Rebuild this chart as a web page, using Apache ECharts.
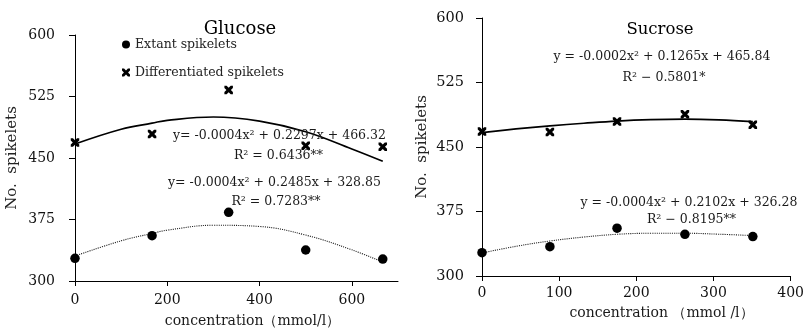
<!DOCTYPE html>
<html>
<head>
<meta charset="utf-8">
<script src="https://cdn.jsdelivr.net/npm/echarts@6/dist/echarts.min.js"></script>
<style>html,body{margin:0;padding:0;background:#fff;}#c{width:807px;height:328px;}</style>
</head>
<body>
<div id="c"></div>
<script>
// ---- Glucose panel ----
const glucoseConc = [0, 167, 333, 500, 667];
const glucoseExtant = [327.7, 355.3, 383.8, 337.8, 326.8];
const glucoseDiff = [469, 479.3, 533, 465, 463.8];
const glucoseTrendX = [0, 100, 167, 200, 300, 400, 500, 600, 667];
const glucoseExtantTrend = [330.5, 349, 358, 362, 368, 366.5, 356, 338, 323];
const glucoseDiffTrend = [467, 485, 492.5, 496, 500, 495, 482, 461, 446];
// ---- Sucrose panel ----
const sucroseConc = [0, 88, 175, 263, 351];
const sucroseExtant = [327.1, 334.1, 355.6, 348.5, 345.8];
const sucroseDiff = [468, 467.5, 479.6, 488, 475.8];
const sucroseTrendX = [0, 44, 88, 132, 175, 219, 263, 307, 351];
const sucroseExtantTrend = [326.8, 334.5, 340.7, 345.3, 348.5, 349.7, 349.7, 348.6, 347];
const sucroseDiffTrend = [466.8, 471, 474.6, 477.6, 480.2, 481.8, 482.4, 481.6, 479.6];
// ---- ticks / labels ----
const glucoseXTicks = [0, 200, 400, 600];
const yTicks = [300, 375, 450, 525, 600];
const legendNames = ['Extant spikelets', 'Differentiated spikelets'];

const zip = (xs, ys) => xs.map((x, i) => [x, ys[i]]);
const xPath = 'path://M0,0 L2.6,0 L5,2.4 L7.4,0 L10,0 L10,2.6 L7.6,5 L10,7.4 L10,10 L7.4,10 L5,7.6 L2.6,10 L0,10 L0,7.4 L2.4,5 L0,2.6 Z';
const serif = '"DejaVu Serif", "Liberation Serif", serif';
const txt = '#111';

function xAxisDef(grid, max, interval, margin, custom) {
  const a = {
    type: 'value', gridIndex: grid, min: 0, max: max, interval: interval,
    splitLine: {show: false},
    axisLine: {show: true, onZero: false, lineStyle: {color: '#000', width: 1}},
    axisTick: {show: true, length: 5, lineStyle: {color: '#000'}},
    axisLabel: {margin: margin, fontFamily: serif, fontSize: 14, color: txt}
  };
  if (custom) { a.axisTick.customValues = custom; a.axisLabel.customValues = custom; }
  return a;
}
function yAxisDef(grid, gap, fs, margin) {
  return {
    type: 'value', gridIndex: grid, min: 300, max: 600, interval: 75,
    name: 'No.  spikelets', nameLocation: 'middle', nameGap: gap,
    nameTextStyle: {fontFamily: serif, fontSize: 15, color: '#222'},
    splitLine: {show: false},
    axisLine: {show: true, lineStyle: {color: '#000', width: 1}},
    axisTick: {show: true, length: 6, lineStyle: {color: '#000'}},
    axisLabel: {margin: margin, fontFamily: serif, fontSize: fs, color: txt}
  };
}
function label(text, x, y, size, color) {
  return {type: 'text', x: x, y: y, z: 100,
    style: {text: text, fontFamily: serif, fontSize: size, fill: color || '#1a1a1a',
      textAlign: 'center', textVerticalAlign: 'middle'}};
}

const chart = echarts.init(document.getElementById('c'), null, {renderer: 'canvas'});
chart.setOption({
  animation: false,
  backgroundColor: '#fff',
  grid: [
    {left: 75, top: 35, width: 323, height: 246},
    {left: 482, top: 18, width: 313, height: 258}
  ],
  xAxis: [
    xAxisDef(0, 700, 100, 12, glucoseXTicks),
    xAxisDef(1, 400, 100, 10)
  ],
  yAxis: [
    yAxisDef(0, 55, 14, 20),
    yAxisDef(1, 52, 14.5, 18)
  ],
  legend: {
    show: true, orient: 'vertical', left: 117, top: 33, itemWidth: 8, itemHeight: 8, itemGap: 15,
    textStyle: {fontFamily: serif, fontSize: 12.5, color: '#222'},
    data: [{name: legendNames[0], icon: 'circle'}, {name: legendNames[1], icon: xPath}]
  },
  series: [
    {type: 'line', name: 'g-diff-trend', xAxisIndex: 0, yAxisIndex: 0, data: zip(glucoseTrendX, glucoseDiffTrend),
      smooth: 0.4, showSymbol: false, lineStyle: {color: '#000', width: 1.7}, z: 2},
    {type: 'line', name: 'g-ext-trend', xAxisIndex: 0, yAxisIndex: 0, data: zip(glucoseTrendX, glucoseExtantTrend),
      smooth: 0.4, showSymbol: false, lineStyle: {color: '#222', width: 1.1, type: 'dotted'}, z: 2},
    {type: 'scatter', name: legendNames[0], xAxisIndex: 0, yAxisIndex: 0, data: zip(glucoseConc, glucoseExtant),
      symbol: 'circle', symbolSize: 9.5, itemStyle: {color: '#000', opacity: 1}, z: 3},
    {type: 'scatter', name: legendNames[1], xAxisIndex: 0, yAxisIndex: 0, data: zip(glucoseConc, glucoseDiff),
      symbol: xPath, symbolSize: 8.5, itemStyle: {color: '#000', opacity: 1}, z: 3},
    {type: 'line', name: 's-diff-trend', xAxisIndex: 1, yAxisIndex: 1, data: zip(sucroseTrendX, sucroseDiffTrend),
      smooth: 0.4, showSymbol: false, lineStyle: {color: '#000', width: 1.7}, z: 2},
    {type: 'line', name: 's-ext-trend', xAxisIndex: 1, yAxisIndex: 1, data: zip(sucroseTrendX, sucroseExtantTrend),
      smooth: 0.4, showSymbol: false, lineStyle: {color: '#222', width: 1.1, type: 'dotted'}, z: 2},
    {type: 'scatter', name: 's-extant', xAxisIndex: 1, yAxisIndex: 1, data: zip(sucroseConc, sucroseExtant),
      symbol: 'circle', symbolSize: 9.5, itemStyle: {color: '#000', opacity: 1}, z: 3},
    {type: 'scatter', name: 's-diff', xAxisIndex: 1, yAxisIndex: 1, data: zip(sucroseConc, sucroseDiff),
      symbol: xPath, symbolSize: 8.5, itemStyle: {color: '#000', opacity: 1}, z: 3}
  ],
  graphic: [
    label('Glucose', 240, 29, 18, '#000'),
    label('Sucrose', 660, 30, 16.5, '#000'),
    label('y= -0.0004x² + 0.2297x + 466.32', 279.5, 136, 12.5),
    label('R² = 0.6436**', 278.5, 156, 12.5),
    label('y= -0.0004x² + 0.2485x + 328.85', 274.5, 183, 12.5),
    label('R² = 0.7283**', 276, 202, 12.5),
    label('y = -0.0002x² + 0.1265x + 465.84', 662, 57, 12.5),
    label('R² − 0.5801*', 664, 78, 12.5),
    label('y = -0.0004x² + 0.2102x + 326.28', 689, 203, 12.5),
    label('R² − 0.8195**', 691.5, 220, 12.5),
    label('concentration（mmol/l）', 252.5, 321, 14),
    label('concentration （mmol /l）', 661.5, 313, 14)
  ]
});
</script>
</body>
</html>
